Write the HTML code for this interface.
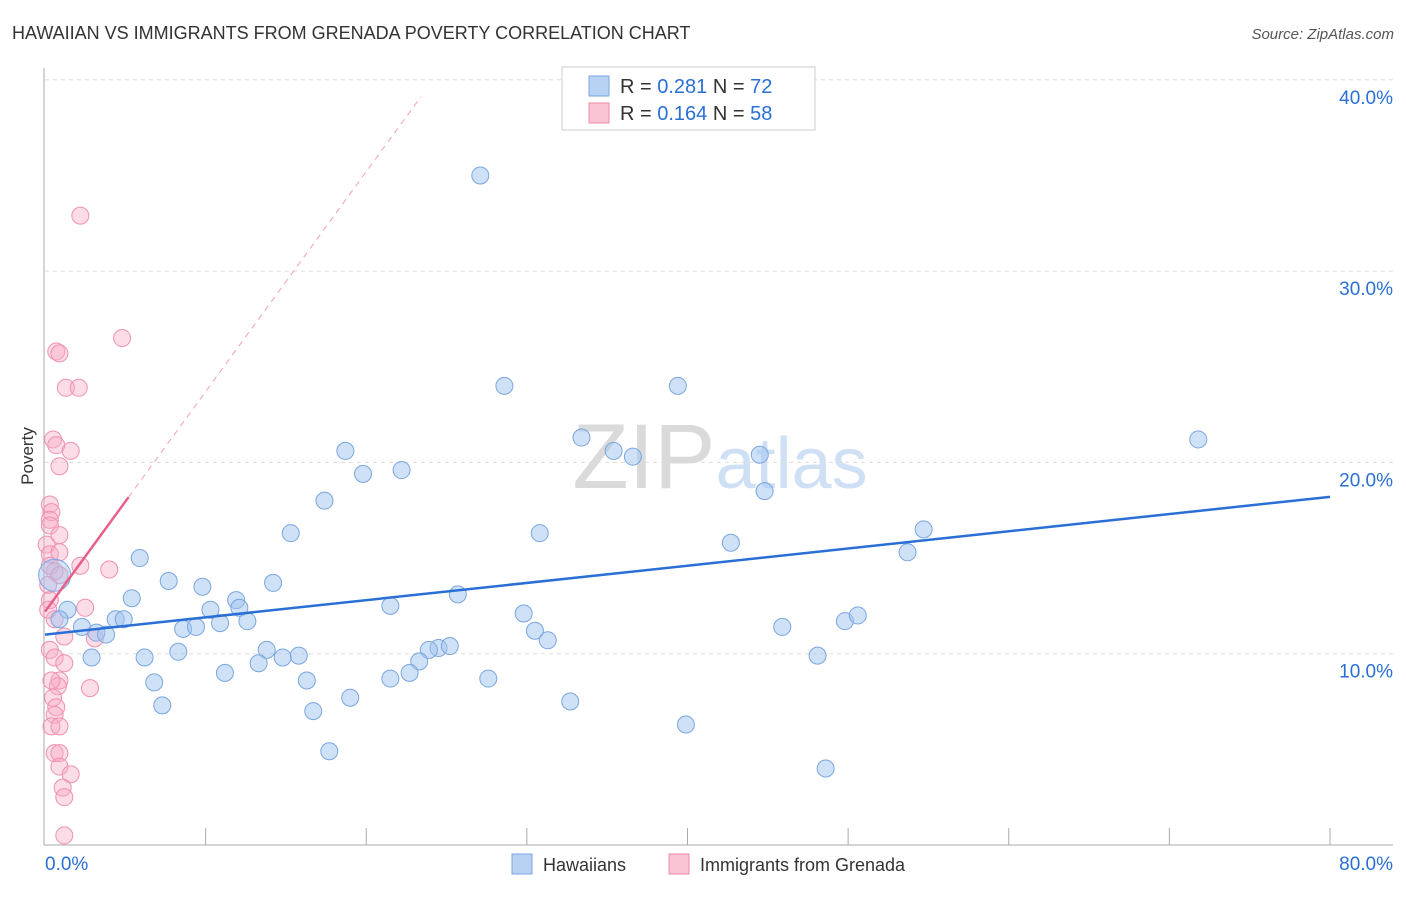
<!DOCTYPE html>
<html><head><meta charset="utf-8"><style>
body{margin:0;background:#fff;font-family:"Liberation Sans",sans-serif;}
svg text{font-family:"Liberation Sans",sans-serif;}
</style></head><body>
<svg id="chart" width="1406" height="892" xmlns="http://www.w3.org/2000/svg">
<text x="12" y="39" font-size="18" fill="#333">HAWAIIAN VS IMMIGRANTS FROM GRENADA POVERTY CORRELATION CHART</text>
<text x="1394" y="39" font-size="15" fill="#555" text-anchor="end" font-style="italic">Source: ZipAtlas.com</text>
<text x="720" y="488" font-size="92" text-anchor="middle" fill="#e4e4e4" font-family="Liberation Serif"><tspan fill="#dadada">ZIP</tspan><tspan fill="#cfe0f5" font-family="Liberation Sans" font-size="72">atlas</tspan></text>
<g id="grid"></g>
<g id="axes"></g>
<g id="pts"></g>
<g id="trends"></g>
<text transform="translate(33,456) rotate(-90)" font-size="17" fill="#333" text-anchor="middle">Poverty</text>
<g>
<rect x="562" y="67" width="253" height="63" fill="#fff" stroke="#ccc"/>
<rect x="589" y="76" width="20" height="20" fill="#b8d2f4" stroke="#7aa6e0"/>
<rect x="589" y="103" width="20" height="20" fill="#fac4d4" stroke="#f08aaa"/>
<text x="620" y="93" font-size="20" fill="#333">R = <tspan fill="#2a6fd6">0.281</tspan>   N = <tspan fill="#2a6fd6">72</tspan></text>
<text x="620" y="120" font-size="20" fill="#333">R = <tspan fill="#2a6fd6">0.164</tspan>   N = <tspan fill="#2a6fd6">58</tspan></text>
</g>
<g>
<rect x="512" y="854" width="20" height="20" fill="#b8d2f4" stroke="#7aa6e0"/>
<text x="543" y="871" font-size="18" fill="#333">Hawaiians</text>
<rect x="669" y="854" width="20" height="20" fill="#fac4d4" stroke="#f08aaa"/>
<text x="700" y="871" font-size="18" fill="#333">Immigrants from Grenada</text>
</g>
</svg>
<script>
const blueX=[27.1,28.6,39.4,33.4,35.4,36.6,44.5,44.8,71.8,18.7,19.8,22.2,17.4,30.8,15.3,42.7,54.7,53.7,5.9,7.7,9.8,14.2,5.4,11.9,12.1,10.3,21.5,25.7,29.8,30.5,31.3,45.9,49.8,50.6,1.4,2.3,3.2,3.8,4.4,4.9,8.6,9.4,10.9,12.6,6.2,2.9,8.3,13.8,14.8,15.8,13.3,11.2,24.5,25.2,23.9,23.3,22.7,21.5,16.3,6.8,7.3,16.7,19.0,27.6,32.7,39.9,48.1,48.6,17.7,0.9];
const blueY=[35.0,24.0,24.0,21.3,20.6,20.3,20.4,18.5,21.2,20.6,19.4,19.6,18.0,16.3,16.3,15.8,16.5,15.3,15.0,13.8,13.5,13.7,12.9,12.8,12.4,12.3,12.5,13.1,12.1,11.2,10.7,11.4,11.7,12.0,12.3,11.4,11.1,11.0,11.8,11.8,11.3,11.4,11.6,11.7,9.8,9.8,10.1,10.2,9.8,9.9,9.5,9.0,10.3,10.4,10.2,9.6,9.0,8.7,8.6,8.5,7.3,7.0,7.7,8.7,7.5,6.3,9.9,4.0,4.9,11.8];
const pinkX=[2.2,4.8,0.7,0.9,1.3,2.1,0.5,0.7,1.6,0.9,0.3,0.4,0.3,0.3,0.9,0.1,0.3,0.9,0.3,0.6,2.2,4.0,0.9,0.2,0.3,2.5,0.6,3.1,1.2,0.3,0.6,1.2,0.9,0.8,2.8,0.5,0.7,0.6,0.4,0.9,0.6,0.9,0.9,1.6,1.1,1.2,1.2,0.2,0.4];
const pinkY=[32.9,26.5,25.8,25.7,23.9,23.9,21.2,20.9,20.6,19.8,17.8,17.4,17.0,16.7,16.2,15.7,15.2,15.3,14.6,14.3,14.6,14.4,14.1,13.6,12.8,12.4,11.8,10.8,10.9,10.2,9.8,9.5,8.6,8.3,8.2,7.7,7.2,6.8,6.2,6.2,4.8,4.8,4.1,3.7,3.0,2.5,0.5,12.3,8.6];
const xTicks=[0,10,20,30,40,50,60,70,80];
const yTicks=[10,20,30,40];
const blueTrend=[11.0,18.2];
const pinkTrend=[12.2,1.15];
const NS="http://www.w3.org/2000/svg";
const xs=v=>45+v/80*1285, ys=v=>845-v*19.13;
function mk(p,tag,a){const e=document.createElementNS(NS,tag);for(const k in a)e.setAttribute(k,a[k]);document.getElementById(p).appendChild(e);return e;}
yTicks.forEach(t=>{
 const l=mk('grid','line',{x1:45,x2:1393,y1:ys(t),y2:ys(t),stroke:'#ddd','stroke-dasharray':'4,4'});
 
 
 const tx=mk('grid','text',{x:1393,y:ys(t)+24,'font-size':19,fill:'#2a6fd6','text-anchor':'end'});tx.textContent=t.toFixed(1)+'%';
 
 
});
mk('axes','line',{x1:44,x2:44,y1:68,y2:845,stroke:'#aaa'});
mk('axes','line',{x1:44,x2:1393,y1:845,y2:845,stroke:'#aaa'});
xTicks.forEach(t=>{
 if(t>0){const l=mk('axes','line',{x1:xs(t),x2:xs(t),y1:828,y2:845,stroke:'#aaa'});
 
 }
});
[[0,'start',45],[80,'end',1393]].forEach(([t,a,x])=>{const tx=mk('axes','text',{x:x,y:870,'font-size':19,fill:'#2a6fd6','text-anchor':a});tx.textContent=t.toFixed(1)+'%';
 
 });
pinkX.forEach((x,i)=>{const c=mk('pts','circle',{cx:xs(x),cy:ys(pinkY[i]),r:8.5,fill:'rgba(248,170,195,0.4)',stroke:'#f090b0','stroke-width':1});
 
 });
blueX.forEach((x,i)=>{const c=mk('pts','circle',{cx:xs(x),cy:ys(blueY[i]),r:8.5,fill:'rgba(160,196,240,0.5)',stroke:'#7aa6e0','stroke-width':1});
 
 });
const big=mk('pts','circle',{cx:xs(0.6),cy:ys(14.1),r:16,fill:'rgba(160,196,240,0.45)',stroke:'#7aa6e0'});


const bt=mk('trends','line',{x1:xs(0),y1:ys(blueTrend[0]),x2:xs(80),y2:ys(blueTrend[1]),stroke:'#2a6fd6','stroke-width':2.5});


const pd=mk('trends','line',{x1:xs(5.2),y1:ys(pinkTrend[0]+pinkTrend[1]*5.2),x2:xs(23.4),y2:ys(pinkTrend[0]+pinkTrend[1]*23.4),stroke:'#f0a0b8','stroke-width':1,'stroke-dasharray':'6,5'});


const pt=mk('trends','line',{x1:xs(0),y1:ys(pinkTrend[0]),x2:xs(5.2),y2:ys(pinkTrend[0]+pinkTrend[1]*5.2),stroke:'#e8608a','stroke-width':2.5});


</script>
</body></html>
